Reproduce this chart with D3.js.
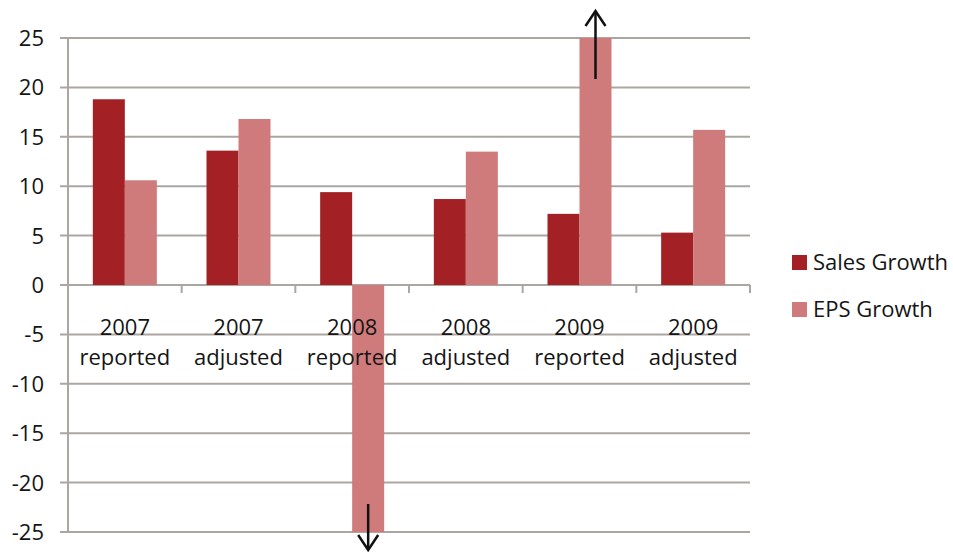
<!DOCTYPE html>
<html>
<head>
<meta charset="utf-8">
<script src="https://cdn.jsdelivr.net/npm/d3@7/dist/d3.min.js"></script>
<style>
  html, body { margin: 0; padding: 0; background: #fff; }
  svg { display: block; }
  text { font-family: "Open Sans", sans-serif; fill: #151515; }
</style>
</head>
<body>
<svg id="chart" width="953" height="552"></svg>
<script>
const categoriesLine1 = ["2007", "2007", "2008", "2008", "2009", "2009"];
const categoriesLine2 = ["reported", "adjusted", "reported", "adjusted", "reported", "adjusted"];
const seriesNames = ["Sales Growth", "EPS Growth"];
const salesGrowth = [18.8, 13.6, 9.4, 8.7, 7.2, 5.3];
const epsGrowth = [10.6, 16.8, -25, 13.5, 25, 15.7];
const yTicks = [25, 20, 15, 10, 5, 0, -5, -10, -15, -20, -25];
const colors = ["#A32024", "#CF7B7B"];
const arrowUp = ["2009 reported", "EPS Growth"];
const arrowDown = ["2008 reported", "EPS Growth"];

(function () {
const categories = categoriesLine1.map((c, i) => c + " " + categoriesLine2[i]);
const seriesValues = [salesGrowth, epsGrowth];

const svg = d3.select("#chart");
const pLeft = 68, pRight = 750, pTop = 38, pBottom = 532;
const gridColor = "#ABA6A2";

const x = d3.scaleBand().domain(categories).range([pLeft, pRight]).paddingInner(0).paddingOuter(0);
const xs = d3.scaleBand().domain(seriesNames).range([0, x.bandwidth()]).paddingInner(0).paddingOuter(0.776);
const y = d3.scaleLinear().domain([-25, 25]).range([pBottom, pTop]);

// gridlines
svg.append("g").selectAll("line").data(yTicks).join("line")
  .attr("x1", pLeft - 8).attr("x2", pRight)
  .attr("y1", d => y(d)).attr("y2", d => y(d))
  .attr("stroke", gridColor).attr("stroke-width", 2);

// bars
const groups = svg.append("g").selectAll("g").data(seriesNames).join("g")
  .attr("fill", (d, i) => colors[i]);
groups.selectAll("rect")
  .data((s, si) => categories.map((c, ci) => ({ c, s, v: seriesValues[si][ci] })))
  .join("rect")
  .attr("x", d => x(d.c) + xs(d.s))
  .attr("width", xs.bandwidth())
  .attr("y", d => y(Math.max(0, d.v)))
  .attr("height", d => Math.abs(y(d.v) - y(0)));

// y axis line
svg.append("line")
  .attr("x1", pLeft).attr("x2", pLeft)
  .attr("y1", y(25)).attr("y2", y(-25))
  .attr("stroke", gridColor).attr("stroke-width", 2);

// x axis ticks on zero line
const boundaries = categories.map(c => x(c) + x.bandwidth());
svg.append("g").selectAll("line").data(boundaries).join("line")
  .attr("x1", d => d).attr("x2", d => d)
  .attr("y1", y(0)).attr("y2", y(0) + 8)
  .attr("stroke", gridColor).attr("stroke-width", 2);

// y tick labels
svg.append("g").selectAll("text").data(yTicks).join("text")
  .attr("x", 44).attr("y", d => y(d))
  .attr("dy", "0.36em")
  .attr("text-anchor", "end")
  .attr("font-size", 22)
  .text(d => d);

// category labels
const catG = svg.append("g").selectAll("text").data(categories).join("text")
  .attr("text-anchor", "middle")
  .attr("font-size", 22);
catG.append("tspan").attr("x", d => x(d) + x.bandwidth() / 2).attr("y", y(0) + 50)
  .text((d, i) => categoriesLine1[i]);
catG.append("tspan").attr("x", d => x(d) + x.bandwidth() / 2).attr("y", y(0) + 80)
  .text((d, i) => categoriesLine2[i]);

// arrows
function arrow(cat, ser, dir, startOff, tipOff) {
  const cx = x(cat) + xs(ser) + xs.bandwidth() / 2;
  const base = dir > 0 ? y(25) : y(-25);
  const y1 = base + dir * startOff;
  const tip = base - dir * tipOff;
  const g = svg.append("g").attr("stroke", "#111").attr("stroke-width", 2.5).attr("fill", "none");
  g.append("line").attr("x1", cx).attr("x2", cx).attr("y1", y1).attr("y2", tip);
  g.append("path").attr("d", `M${cx - 10},${tip + dir * 15} L${cx},${tip} L${cx + 10},${tip + dir * 15}`);
}
arrow(arrowUp[0], arrowUp[1], 1, 41, 27);
arrow(arrowDown[0], arrowDown[1], -1, 28, 18);

// legend
const legend = svg.append("g").selectAll("g").data(seriesNames).join("g")
  .attr("transform", (d, i) => `translate(792, ${255 + i * 47})`);
legend.append("rect").attr("width", 15).attr("height", 15).attr("fill", (d, i) => colors[i]);
legend.append("text").attr("x", 21).attr("y", 7.5).attr("dy", "0.36em")
  .attr("font-size", 22).text(d => d);
})();
</script>
</body>
</html>
